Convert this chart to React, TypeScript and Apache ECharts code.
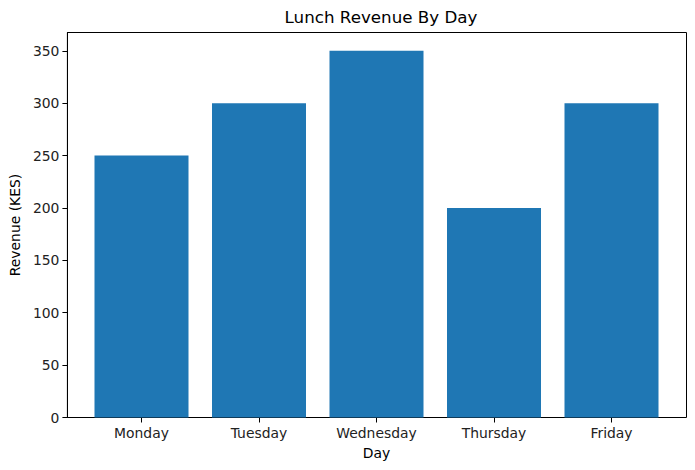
import React, { useEffect, useRef } from 'react';
import * as echarts from 'echarts';

const days = ['Monday', 'Tuesday', 'Wednesday', 'Thursday', 'Friday'];
const revenue = [250, 300, 350, 200, 300];
const yTicks = [0, 50, 100, 150, 200, 250, 300, 350];

const FONT = 'DejaVu Sans';

const App: React.FC = () => {
    const chartRef = useRef<HTMLDivElement>(null);

    useEffect(() => {
        document.body.style.margin = '0';
        if (!chartRef.current) return;
        const chart = echarts.init(chartRef.current, undefined, { renderer: 'svg' });

        const yMax = 367.5;

        const option = {
            animation: false,
            title: {
                text: 'Lunch Revenue By Day',
                left: 376,
                textAlign: 'center',
                top: 3,
                textStyle: { fontFamily: FONT, fontSize: 16.7, fontWeight: 'normal', color: '#000' }
            },
            grid: [
                // bars + category labels
                { left: 82.75, top: 32.5, width: 587.5, height: 385 },
                // frame + y axis
                { left: 66.5, top: 32.5, width: 620, height: 385, show: true, borderColor: '#000', borderWidth: 1, backgroundColor: 'transparent' }
            ],
            xAxis: [
                {
                    type: 'category',
                    gridIndex: 0,
                    data: days,
                    name: 'Day',
                    nameLocation: 'middle',
                    nameGap: 28,
                    nameTextStyle: { fontFamily: FONT, fontSize: 13.9, color: '#000' },
                    axisLine: { show: false },
                    axisTick: { show: true, alignWithLabel: true, length: 5, lineStyle: { color: '#000' } },
                    axisLabel: { fontFamily: FONT, fontSize: 13.9, color: '#222', margin: 8 }
                },
                { type: 'value', gridIndex: 1, show: false, min: 0, max: 1 }
            ],
            yAxis: [
                { type: 'value', gridIndex: 0, show: false, min: 0, max: yMax },
                {
                    type: 'value',
                    gridIndex: 1,
                    min: 0,
                    max: yMax,
                    interval: 50,
                    name: 'Revenue (KES)',
                    nameLocation: 'middle',
                    nameGap: 41,
                    nameTextStyle: { fontFamily: FONT, fontSize: 13.9, color: '#000' },
                    splitLine: { show: false },
                    axisLine: { show: true, lineStyle: { color: '#000' } },
                    axisTick: { show: true, length: 5, lineStyle: { color: '#000' } },
                    axisLabel: {
                        fontFamily: FONT,
                        fontSize: 13.9,
                        color: '#222',
                        margin: 8,
                        showMaxLabel: false,
                        formatter: (v: number) => (yTicks.includes(v) ? String(v) : '')
                    }
                }
            ],
            series: [
                {
                    type: 'bar',
                    xAxisIndex: 0,
                    yAxisIndex: 0,
                    data: revenue,
                    barWidth: '80%',
                    itemStyle: { color: '#1f77b4' }
                }
            ]
        };

        chart.setOption(option);
        return () => chart.dispose();
    }, []);

    return <div ref={chartRef} style={{ width: 695, height: 470 }} />;
};

export default App;
